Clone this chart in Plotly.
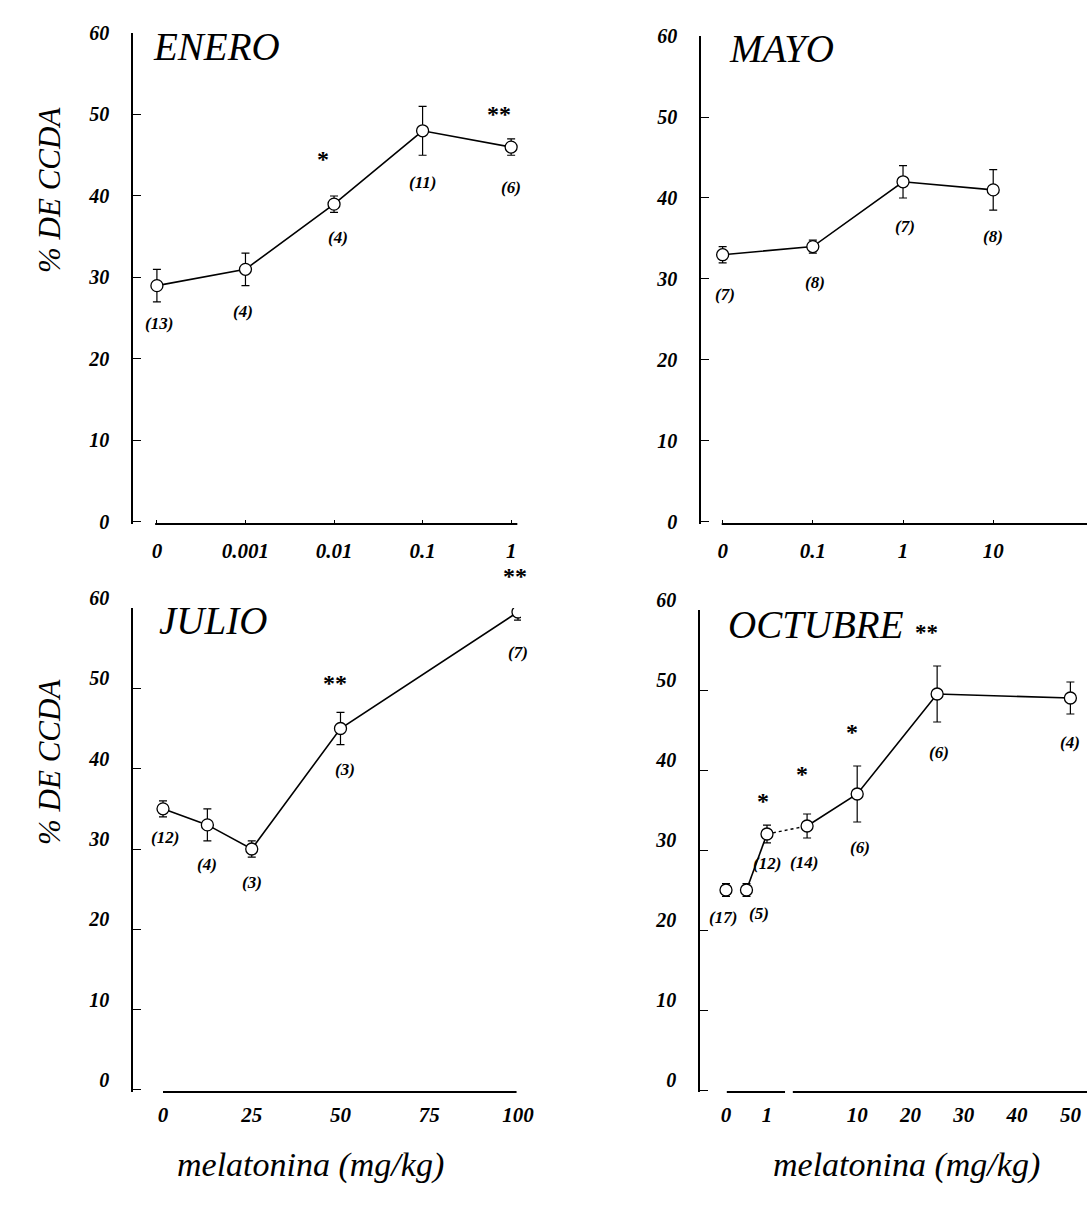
import numpy as np
import plotly.graph_objects as go

W, H = 1087, 1208

# ---------------- data ----------------
enero_dose = ["0", "0.001", "0.01", "0.1", "1"]
enero_mean = [29, 31, 39, 48, 46]
enero_sem = [2, 2, 1, 3, 1]
enero_n = [13, 4, 4, 11, 6]
enero_sig = ["", "", "*", "", "**"]

mayo_dose = ["0", "0.1", "1", "10"]
mayo_mean = [33, 34, 42, 41]
mayo_sem = [1, 0.8, 2, 2.5]
mayo_n = [7, 8, 7, 8]
mayo_sig = ["", "", "", ""]

julio_dose = [0, 12.5, 25, 50, 100]
julio_mean = [35, 33, 30, 45, 59.5]
julio_sem = [1, 2, 1, 2, 1]
julio_n = [12, 4, 3, 3, 7]
julio_sig = ["", "", "", "**", "**"]
julio_ticks = [0, 25, 50, 75, 100]

octubre_dose = [0, 0.5, 1, 5, 10, 25, 50]
octubre_mean = [25, 25, 32, 33, 37, 49.5, 49]
octubre_sem = [0.8, 0.8, 1.1, 1.5, 3.5, 3.5, 2]
octubre_n = [17, 5, 12, 14, 6, 6, 4]
octubre_sig = ["", "", "*", "*", "*", "", ""]
octubre_ticks = [0, 1, 10, 20, 30, 40, 50]

y_ticks = [0, 10, 20, 30, 40, 50, 60]

# broken / compressed dose scale of the OCTUBRE panel
oct_knots_dose = [0, 1, 10, 50]
oct_knots_pos = [0, 1, 3.2, 8.4]


def oct_scale(d):
    return [float(v) for v in np.interp(d, oct_knots_dose, oct_knots_pos)]


# ---------------- layout helpers ----------------
FONT = "Liberation Serif"


def px(x, y):
    return x / W, 1 - y / H


fig = go.Figure()

panels = [
    dict(ax="", x=enero_dose, cat=True, m=enero_mean, e=enero_sem, n=enero_n, s=enero_sig,
         ldx=[2, -2, 4, 0, 0], ldy=[-38, -42, -33, -52, -40],
         sdx=[0, 0, -11, 0, -12], sdy=[0, 0, 45, 0, 33]),
    dict(ax="2", x=mayo_dose, cat=True, m=mayo_mean, e=mayo_sem, n=mayo_n, s=mayo_sig,
         ldx=[2, 2, 2, 0], ldy=[-40, -36, -45, -47],
         sdx=[0, 0, 0, 0], sdy=[0, 0, 0, 0]),
    dict(ax="3", x=julio_dose, cat=False, m=julio_mean, e=julio_sem, n=julio_n, s=julio_sig,
         ldx=[2, 0, 0, 5, 0], ldy=[-29, -40, -33, -41, -40],
         sdx=[0, 0, 0, -5, -3], sdy=[0, 0, 0, 46, 36]),
    dict(ax="4", x=oct_scale(octubre_dose), cat=False, m=octubre_mean, e=octubre_sem,
         n=octubre_n, s=octubre_sig,
         ldx=[-3, 13, 0, -3, 3, 2, 0], ldy=[-27, -23, -29, -36, -53, -58, -44],
         sdx=[0, 0, -4, -5, -5, 0, 0], sdy=[0, 0, 33, 52, 62, 0, 0]),
]

line_style = dict(color="black", width=1.6)
marker_style = dict(symbol="circle", size=12, color="white",
                    line=dict(color="black", width=1.3))
err_style = dict(color="black", thickness=1.2, width=4)

annotations = []
for i, p in enumerate(panels):
    xa, ya = "x" + p["ax"], "y" + p["ax"]
    if i < 3:
        fig.add_trace(go.Scatter(x=p["x"], y=p["m"], mode="lines", line=line_style,
                                 xaxis=xa, yaxis=ya, showlegend=False, hoverinfo="skip"))
    else:
        xs, ms = p["x"], p["m"]
        fig.add_trace(go.Scatter(x=xs[1:3], y=ms[1:3], mode="lines", line=line_style,
                                 xaxis=xa, yaxis=ya, showlegend=False, hoverinfo="skip"))
        fig.add_trace(go.Scatter(x=xs[2:4], y=ms[2:4], mode="lines",
                                 line=dict(color="black", width=1.4, dash="dot"),
                                 xaxis=xa, yaxis=ya, showlegend=False, hoverinfo="skip"))
        fig.add_trace(go.Scatter(x=xs[3:], y=ms[3:], mode="lines", line=line_style,
                                 xaxis=xa, yaxis=ya, showlegend=False, hoverinfo="skip"))
    fig.add_trace(go.Scatter(x=p["x"], y=p["m"], mode="markers", marker=marker_style,
                             error_y=dict(type="data", array=p["e"], visible=True, **err_style),
                             xaxis=xa, yaxis=ya, showlegend=False))
    for j, mv in enumerate(p["m"]):
        # category axes take the category's serial index for annotations
        xv = j if p["cat"] else p["x"][j]
        annotations.append(dict(x=xv, y=mv, xref=xa, yref=ya, text=f"({p['n'][j]})",
                                showarrow=False, xanchor="center", yanchor="middle",
                                xshift=p["ldx"][j], yshift=p["ldy"][j],
                                font=dict(family=FONT, size=17, color="black",
                                          style="italic", weight="bold")))
        if p["s"][j]:
            annotations.append(dict(x=xv, y=mv, xref=xa, yref=ya, text=p["s"][j],
                                    showarrow=False, xanchor="center", yanchor="middle",
                                    xshift=p["sdx"][j], yshift=p["sdy"][j],
                                    font=dict(family=FONT, size=24, color="black",
                                              weight="bold")))

# panel titles
titles = [("ENERO", 151, 46), ("MAYO", 727, 49), ("JULIO", 157, 620), ("OCTUBRE", 726, 625)]
for t, x, y in titles:
    ax_, ay_ = px(x, y)
    annotations.append(dict(x=ax_, y=ay_, xref="paper", yref="paper", text=t,
                            showarrow=False, xanchor="left", yanchor="middle",
                            font=dict(family=FONT, size=39, color="black", style="italic")))
ax_, ay_ = px(926, 632)
annotations.append(dict(x=ax_, y=ay_, xref="paper", yref="paper", text="**",
                        showarrow=False, xanchor="center", yanchor="middle",
                        font=dict(family=FONT, size=23, color="black", weight="bold")))

# axis titles
for y in (190, 762):
    ax_, ay_ = px(50, y)
    annotations.append(dict(x=ax_, y=ay_, xref="paper", yref="paper", text="% DE CCDA",
                            showarrow=False, textangle=-90, xanchor="center",
                            yanchor="middle",
                            font=dict(family=FONT, size=31, color="black", style="italic")))
for x in (310, 906):
    ax_, ay_ = px(x, 1165)
    annotations.append(dict(x=ax_, y=ay_, xref="paper", yref="paper",
                            text="melatonina (mg/kg)", showarrow=False,
                            xanchor="center", yanchor="middle",
                            font=dict(family=FONT, size=34, color="black", style="italic")))

tickfont = dict(family=FONT, size=20, color="black", style="italic", weight="bold")
xtickfont = dict(family=FONT, size=21, color="black", style="italic", weight="bold")


def yaxis(bottom_px, top_px, anchor, shift=0):
    d0 = 1 - bottom_px / H
    d1 = 1 - top_px / H
    return dict(domain=[d0, d1], range=[-0.25, 60], tickvals=y_ticks, anchor=anchor,
                showline=True, linecolor="black", linewidth=1.5,
                ticks="inside", ticklen=8, tickwidth=1.2, tickcolor="black",
                showgrid=False, zeroline=False, tickfont=tickfont, automargin=False,
                ticklabelstandoff=18, ticklabelshift=shift)


def xaxis(left_px, right_px, rng, anchor, **kw):
    base = dict(domain=[left_px / W, right_px / W], range=rng, showline=False,
                anchor=anchor, showgrid=False, zeroline=False, tickfont=xtickfont,
                automargin=False)
    base.update(kw)
    return base


fig.update_layout(
    template="none",
    width=W, height=H, margin=dict(l=0, r=0, t=0, b=0, autoexpand=False),
    plot_bgcolor="white", paper_bgcolor="white", showlegend=False,
    xaxis=xaxis(133, 520, [-0.27, 4.1], "y", type="category", ticks="inside", ticklen=4,
                tickcolor="black", ticklabelstandoff=12),
    yaxis=yaxis(524, 33, "x"),
    xaxis2=xaxis(701, 1087, [-0.24, 4.04], "y2", type="category", ticks="inside",
                 ticklen=4, tickcolor="black", ticklabelstandoff=12),
    yaxis2=yaxis(524, 36, "x2"),
    xaxis3=xaxis(133, 521, [-8.45, 100.85], "y3", tickvals=julio_ticks, ticks="",
                 ticklabelstandoff=8),
    yaxis3=yaxis(1092, 608, "x3", shift=-10),
    xaxis4=xaxis(700, 1087, [-0.634, 8.805], "y4", tickvals=oct_scale(octubre_ticks),
                 ticktext=[str(t) for t in octubre_ticks], ticks="",
                 ticklabelstandoff=8),
    yaxis4=yaxis(1092, 610, "x4", shift=-10),
    annotations=annotations,
)

# x axis baselines (drawn in data units of each axis)
shapes = []
for xr, yr, x0, x1 in [("x", "y", -0.02, 4.07), ("x2", "y2", -0.01, 4.04),
                       ("x3", "y3", 0, 99.6), ("x4", "y4", 0.02, 1.44),
                       ("x4", "y4", 1.63, 8.805)]:
    shapes.append(dict(type="line", xref=xr, yref=yr + " domain", x0=x0, x1=x1, y0=0, y1=0,
                       line=dict(color="black", width=1.8)))
fig.update_layout(shapes=shapes)

fig.write_html("out.html")
